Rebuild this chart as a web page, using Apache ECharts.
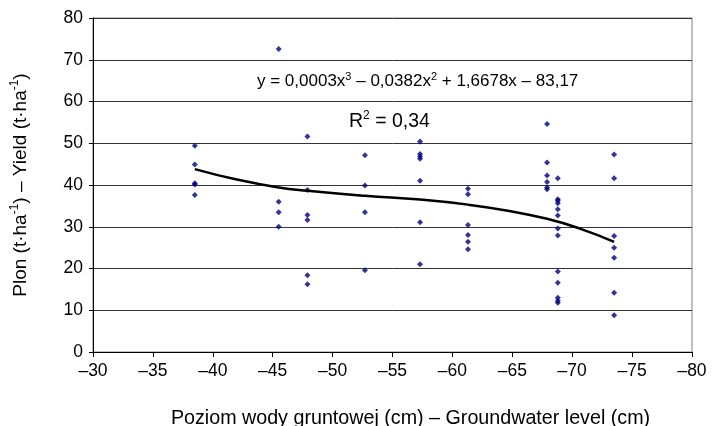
<!DOCTYPE html>
<html>
<head>
<meta charset="utf-8">
<script src="https://cdn.jsdelivr.net/npm/echarts@6/dist/echarts.min.js"></script>
<style>
html,body{margin:0;padding:0;background:#fff;}
#chart{width:719px;height:426px;}
</style>
</head>
<body>
<div id="chart"></div>
<script>
// groundwater level of each measuring column (cm)
var levels = [-38.5, -45.5, -47.9, -52.7, -57.3, -61.3, -67.9, -68.8, -73.5];
// yields read at each level (t/ha)
var yields = [
    [49.4, 44.9, 40.4, 40.1, 37.6],
    [72.6, 36.0, 33.5, 30.0],
    [51.6, 38.8, 32.8, 31.6, 18.4, 16.2],
    [47.1, 39.9, 33.5, 19.6],
    [50.4, 47.4, 46.8, 46.3, 41.0, 31.1, 21.0],
    [39.1, 37.8, 30.4, 28.0, 26.4, 24.6],
    [54.6, 45.4, 42.3, 40.7, 39.4, 39.0],
    [41.6, 36.6, 36.2, 35.6, 34.2, 32.7, 29.6, 27.9, 19.3, 16.6, 13.0, 12.3, 11.8],
    [47.3, 41.6, 27.8, 25.0, 22.6, 14.2, 8.8]
];
// trend curve
var trendX = [-38.5, -42, -45.5, -47.9, -52.7, -57.3, -61.3, -64.5, -67.9, -70.7, -73.5];
var trendY = [43.8, 41.3, 39.4, 38.6, 37.4, 36.5, 35.3, 33.9, 31.9, 29.5, 26.4];

var pts = [];
for (var i = 0; i < levels.length; i++) {
    for (var j = 0; j < yields[i].length; j++) {
        pts.push([levels[i], yields[i][j]]);
    }
}
var trend = [];
for (var k = 0; k < trendX.length; k++) trend.push([trendX[k], trendY[k]]);

var font = 'Liberation Sans, Arial, sans-serif';
// superscript styles for rich text
function richFor(size) {
    return {
        n: {fontSize: size, lineHeight: size + 4, fontFamily: font, color: '#000'},
        s: {fontSize: Math.round(size * 0.62), lineHeight: Math.round(size * 0.7), verticalAlign: 'top', fontFamily: font, color: '#000'}
    };
}

var myChart = echarts.init(document.getElementById('chart'));
var option = {
    animation: false,
    textStyle: {fontFamily: font},
    grid: {
        left: 93, right: 27, top: 18, bottom: 74,
        outerBoundsMode: 'none', containLabel: false,
        show: true, borderColor: '#808080', borderWidth: 1
    },
    xAxis: {
        type: 'value',
        min: -80, max: -30, interval: 5,
        inverse: true,
        name: 'Poziom wody gruntowej (cm) – Groundwater level (cm)',
        nameLocation: 'middle',
        nameGap: 57,
        nameTextStyle: {fontSize: 19.7, color: '#000', fontFamily: font, padding: [0, 0, 0, 36]},
        axisLine: {onZero: false, lineStyle: {color: '#000', width: 1}},
        axisTick: {show: true, length: 5, lineStyle: {color: '#000'}},
        axisLabel: {
            fontSize: 17.5, color: '#000', margin: 10, fontFamily: font,
            formatter: function (v) { return String(v).replace('-', '–'); }
        },
        splitLine: {show: false}
    },
    yAxis: {
        type: 'value',
        min: 0, max: 80, interval: 10,
        name: '{n|Plon (t·ha}{s|-1}{n|) – Yield (t·ha}{s|-1}{n|)}',
        nameLocation: 'middle',
        nameGap: 61,
        nameTextStyle: {fontSize: 19, color: '#000', fontFamily: font, rich: richFor(19)},
        axisLine: {show: true, lineStyle: {color: '#000', width: 1}},
        axisTick: {show: true, length: 4, lineStyle: {color: '#000'}},
        axisLabel: {fontSize: 17.5, color: '#000', margin: 10, fontFamily: font},
        splitLine: {show: true, lineStyle: {color: '#333', width: 1}}
    },
    graphic: [
        {
            type: 'text', left: 257, top: 71,
            style: {
                text: '{n|y = 0,0003x}{s|3}{n| – 0,0382x}{s|2}{n| + 1,6678x – 83,17}',
                rich: richFor(17)
            }
        },
        {
            type: 'text', left: 349, top: 110,
            style: {text: '{n|R}{s|2}{n| = 0,34}', rich: richFor(19.5)}
        }
    ],
    series: [
        {
            type: 'scatter',
            data: pts,
            symbol: 'diamond',
            symbolSize: 6,
            itemStyle: {color: '#000080'},
            z: 3
        },
        {
            type: 'line',
            data: trend,
            smooth: true,
            showSymbol: false,
            lineStyle: {color: '#000', width: 2.5},
            z: 4
        }
    ]
};
myChart.setOption(option);
</script>
</body>
</html>
